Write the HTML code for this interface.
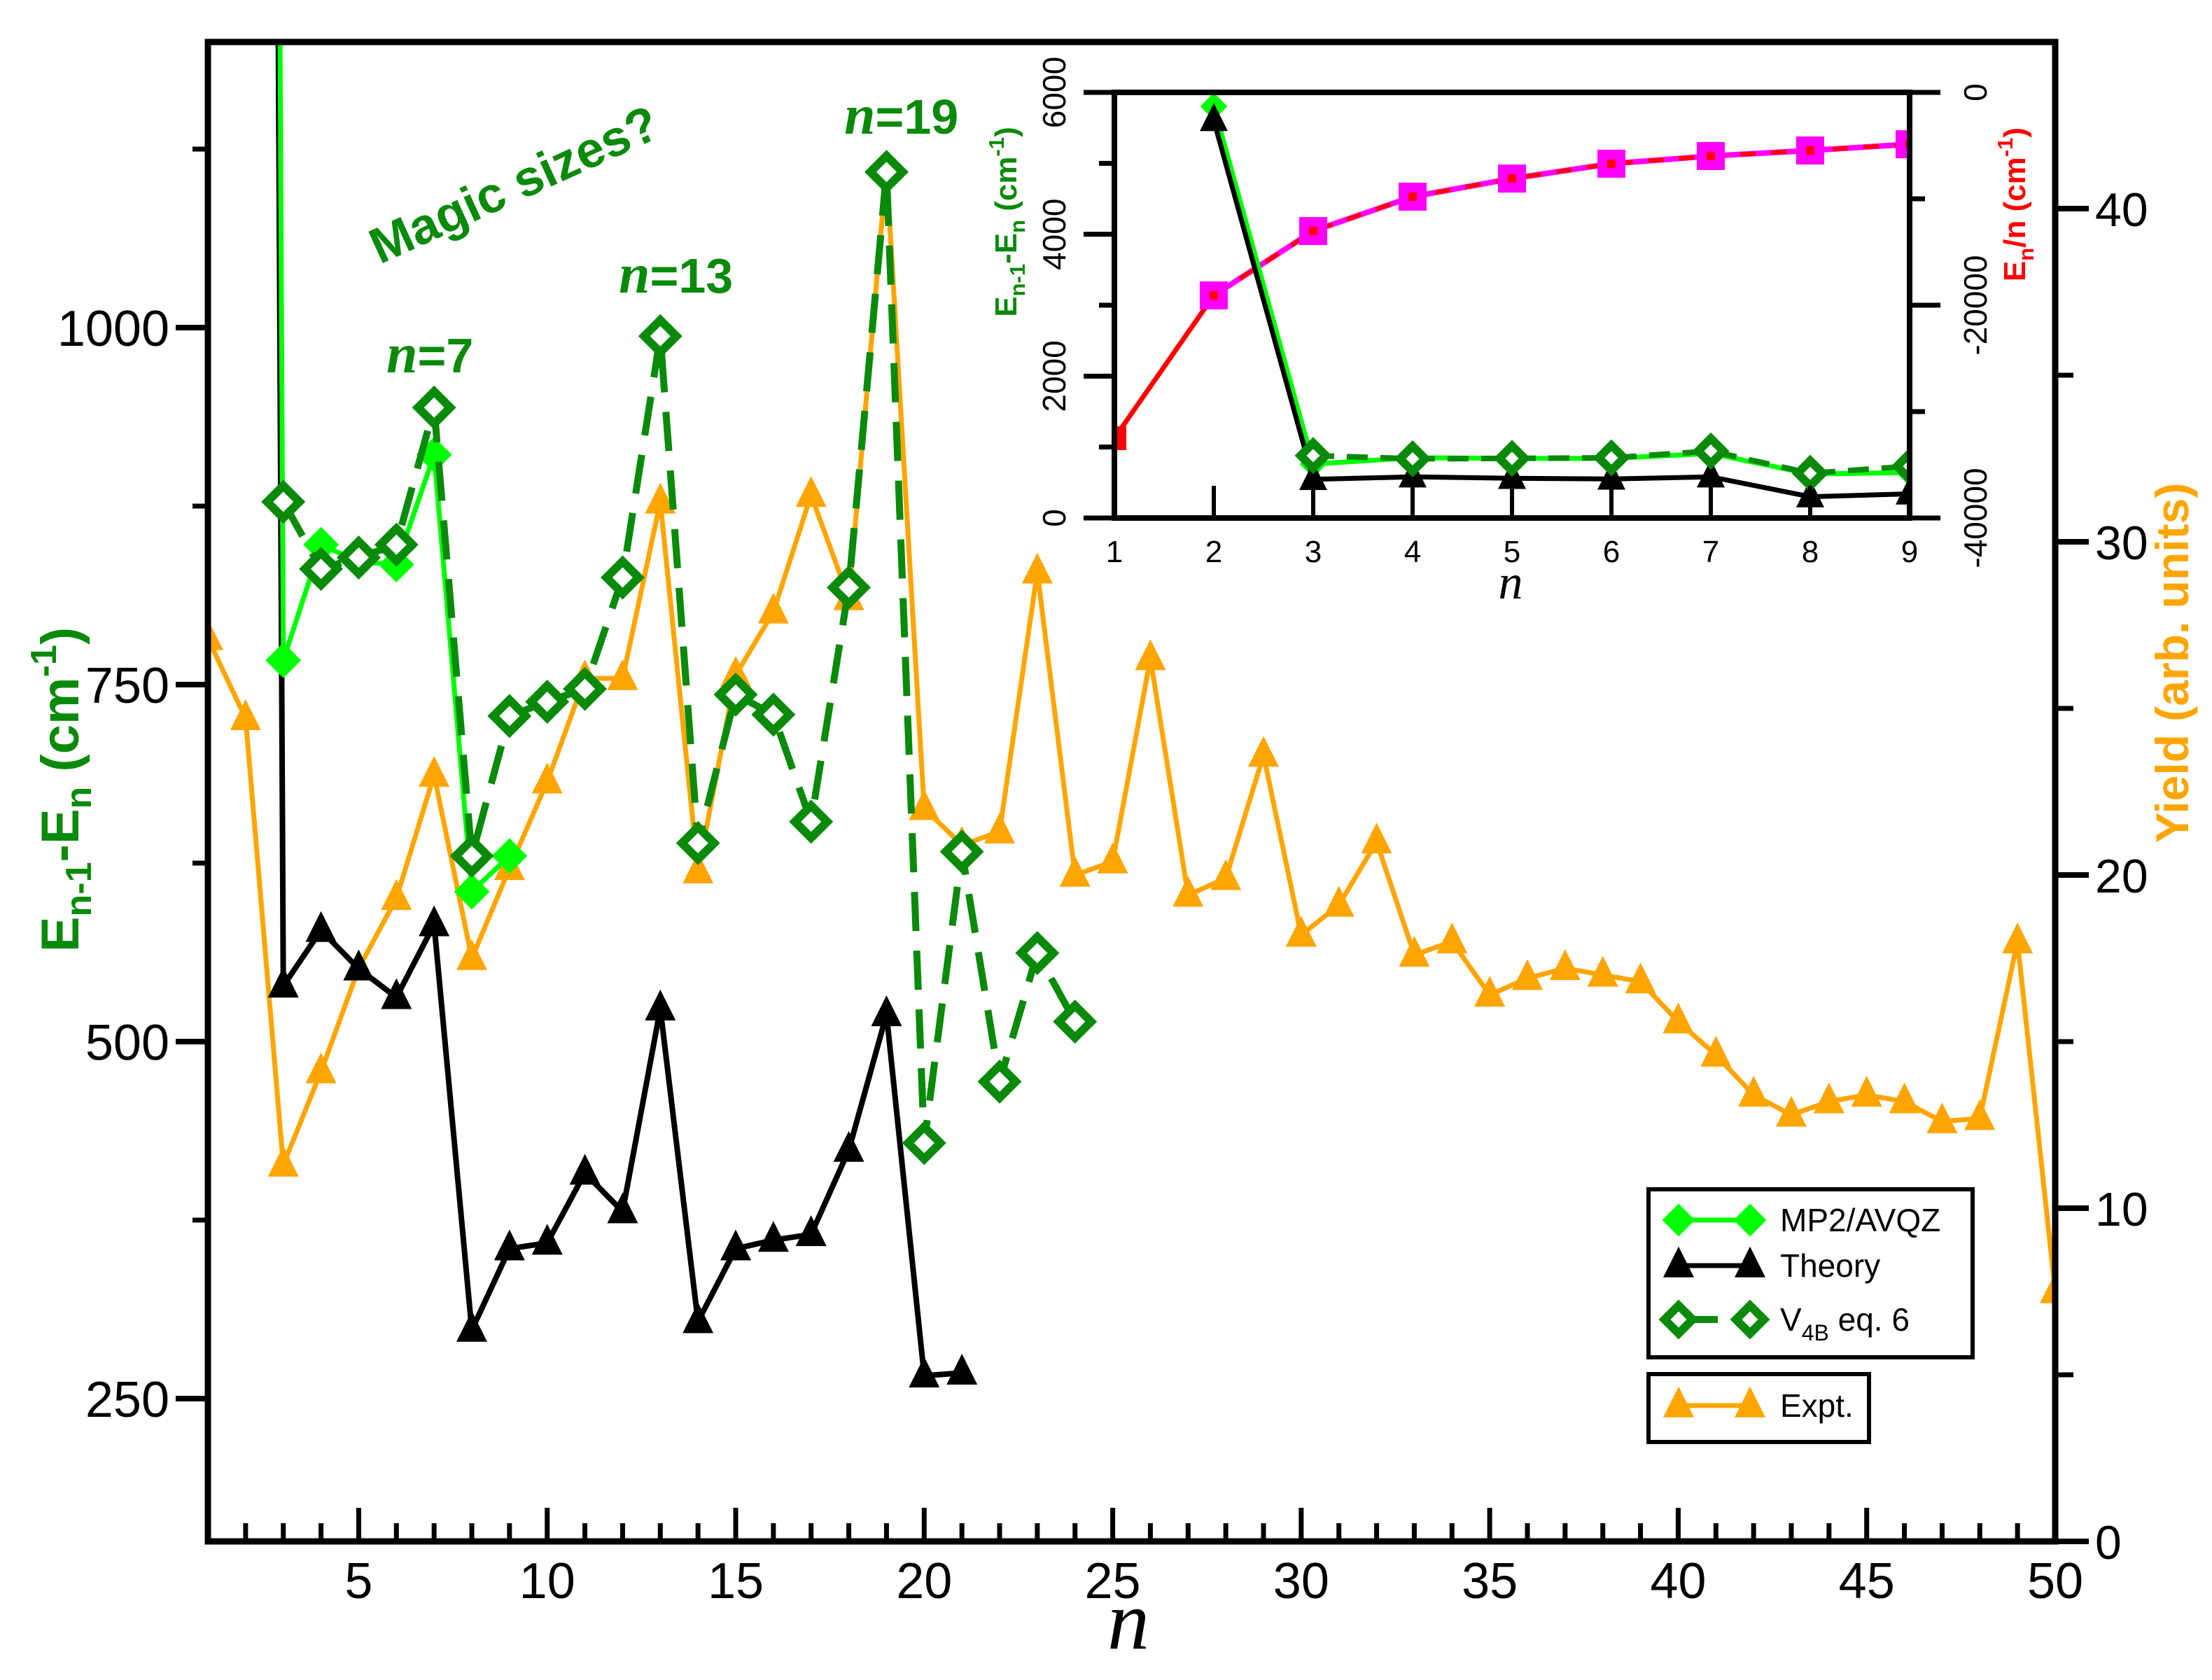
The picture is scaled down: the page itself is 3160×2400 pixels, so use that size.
<!DOCTYPE html>
<html><head><meta charset="utf-8"><title>Magic sizes chart</title>
<style>
html,body{margin:0;padding:0;background:#fff;}
svg{display:block;font-family:"Liberation Sans",sans-serif;}
</style></head>
<body>
<svg id="chart" xmlns="http://www.w3.org/2000/svg" width="3160" height="2400" viewBox="0 0 3160 2400">
<defs>
<clipPath id="mainClip"><rect x="297" y="60" width="2639" height="2142"/></clipPath>
<clipPath id="insetClip"><rect x="1592" y="132" width="1136" height="608"/></clipPath>
</defs>
<rect x="0" y="0" width="3160" height="2400" fill="#fff"/>
<g id="mainSeries" clip-path="url(#mainClip)"></g>
<g id="mainAxes"></g>
<rect x="297" y="60" width="2639" height="2142" fill="none" stroke="#000" stroke-width="9"/>

<text x="735" y="288" font-size="72" font-weight="bold" fill="#0a8a0a" text-anchor="middle" transform="rotate(-24.5 735 265)">Magic sizes?</text>
<text x="552" y="532" font-size="70" font-weight="bold" fill="#0a8a0a"><tspan font-family="Liberation Serif,serif" font-style="italic" font-size="80">n</tspan>=7</text>
<text x="884" y="418" font-size="70" font-weight="bold" fill="#0a8a0a"><tspan font-family="Liberation Serif,serif" font-style="italic" font-size="80">n</tspan>=13</text>
<text x="1206" y="191" font-size="70" font-weight="bold" fill="#0a8a0a"><tspan font-family="Liberation Serif,serif" font-style="italic" font-size="80">n</tspan>=19</text>

<text x="112" y="1128" font-size="76" font-weight="bold" fill="#0a8a0a" text-anchor="middle" transform="rotate(-90 112 1128)">E<tspan font-size="52" dy="18">n-1</tspan><tspan dy="-18">-E</tspan><tspan font-size="52" dy="18">n</tspan><tspan dy="-18"> (cm</tspan><tspan font-size="52" dy="-32">-1</tspan><tspan dy="32">)</tspan></text>
<text x="3126" y="947" font-size="66" font-weight="bold" fill="#ffa500" text-anchor="middle" transform="rotate(-90 3126 947)">Yield (arb. units)</text>
<text x="1612" y="2355" font-size="120" font-family="Liberation Serif,serif" font-style="italic" text-anchor="middle">n</text>

<g id="legend">
<rect x="2355" y="1699" width="463" height="240" fill="#fff" stroke="#000" stroke-width="6"/>
<rect x="2355" y="1963" width="315" height="97" fill="#fff" stroke="#000" stroke-width="6"/>
</g>

<g id="inset">
<rect x="1592" y="132" width="1136" height="608" fill="#fff"/>
<g id="insetSeries" clip-path="url(#insetClip)"></g>
<g id="insetAxes"></g>
<rect x="1592" y="132" width="1136" height="608" fill="none" stroke="#000" stroke-width="8"/>
<text x="1452" y="317" font-size="44" font-weight="bold" fill="#0a8a0a" text-anchor="middle" transform="rotate(-90 1452 317)">E<tspan font-size="31" dy="12">n-1</tspan><tspan dy="-12">-E</tspan><tspan font-size="31" dy="12">n</tspan><tspan dy="-12"> (cm</tspan><tspan font-size="31" dy="-18">-1</tspan><tspan dy="18">)</tspan></text>
<text x="2893" y="292" font-size="44" font-weight="bold" fill="#ff0000" text-anchor="middle" transform="rotate(-90 2893 292)">E<tspan font-size="31" dy="12">n</tspan><tspan dy="-12">/n (cm</tspan><tspan font-size="31" dy="-18">-1</tspan><tspan dy="18">)</tspan></text>
<text x="2158" y="855" font-size="70" font-family="Liberation Serif,serif" font-style="italic" text-anchor="middle">n</text>
</g>
</svg>
<script>
// ---- main chart data ----
const theoryN = [2,3,4,5,6,7,8,9,10,11,12,13,14,15,16,17,18,19,20,21];
const theoryVals = [5600,539,578,551,531,582,298,355,359,408,381,523,304,355,361,365,424,519,266,268];
const mp2N = [2,3,4,5,6,7,8,9];
const mp2Vals = [5800,767,848,836,834,911,605,630];
const v4bN = [3,4,5,6,7,8,9,10,11,12,13,14,15,16,17,18,19,20,21,22,23,24];
const v4bVals = [878,831,839,848,944,630,728,738,747,825,994,639,743,729,654,818,1109,429,633,472,562,514];
const exptN = [1,2,3,4,5,6,7,8,9,10,11,12,13,14,15,16,17,18,19,20,21,22,23,24,25,26,27,28,29,30,31,32,33,34,35,36,37,38,39,40,41,42,43,44,45,46,47,48,49,50];
const exptVals = [27.1,24.7,11.3,14.1,17.2,19.3,23.0,17.5,20.2,22.8,25.9,25.9,31.2,20.1,26.0,27.9,31.4,28.3,41.2,22.0,20.9,21.3,29.1,20.0,20.4,26.5,19.4,19.9,23.6,18.2,19.1,21.0,17.6,18.0,16.4,16.9,17.2,17.0,16.8,15.6,14.6,13.4,12.8,13.2,13.4,13.2,12.6,12.7,18.0,7.5];
const xTicks = [5,10,15,20,25,30,35,40,45,50];
const leftTicks = [250,500,750,1000];
const leftMinor = [375,625,875,1125];
const rightTicks = [0,10,20,30,40];
const rightMinor = [5,15,25,35];
// ---- inset data ----
const inTheoryN = [2,3,4,5,6,7,8,9];
const inTheoryVals = [5605,545,580,560,550,580,300,340];
const inMp2N = [2,3,4,5,6,7,8,9];
const inMp2Vals = [5803,760,850,840,840,910,620,640];
const inV4bN = [3,4,5,6,7,8,9];
const inV4bVals = [880,835,840,848,944,630,730];
const inEnN = [1,2,3,4,5,6,7,8,9];
const inEnVals = [-32500,-19080,-13030,-9800,-8100,-6700,-5980,-5460,-4870];
const inMagN = [2,3,4,5,6,7,8,9];
const inMagVals = [-19080,-13030,-9800,-8100,-6700,-5980,-5460,-4870];
const inXTicks = [1,2,3,4,5,6,7,8,9];
const inLeftTicks = [0,2000,4000,6000];
const inRightTicks = [0,-20000,-40000];

const NS = "http://www.w3.org/2000/svg";
function mk(tag, attrs, parent){ const e=document.createElementNS(NS,tag); for(const k in attrs) e.setAttribute(k,attrs[k]); parent.appendChild(e); return e; }

const xs = n => 297 + (n-1)*(2936-297)/49;
const yL = v => 2202 - (v-150)*(2202-60)/1050;
const yR = v => 2202 - v*(2142/45);
const ixs = n => 1592 + (n-1)*(1136/8);
const iyL = v => 740 - v*(608/6000);
const iyR = v => 132 - v*(608/40000);

function tri(g,cx,cy,s,color,name){
  const p = mk('polygon',{points:`${cx},${cy-s*0.62} ${cx-s/2},${cy+s*0.38} ${cx+s/2},${cy+s*0.38}`,fill:color},g);
  
  
}
function diamond(g,cx,cy,s,color,open,name){
  const p = mk('polygon',{points:`${cx},${cy-s/2} ${cx+s/2},${cy} ${cx},${cy+s/2} ${cx-s/2},${cy}`,fill:open?'#fff':color,stroke:color,'stroke-width':open?12:2},g);
  
  
}
function square(g,cx,cy,s,color,name){
  const p = mk('rect',{x:cx-s/2,y:cy-s/2,width:s,height:s,fill:color},g);
  
  
}
function line(g,ns,vs,fx,fy,color,w,dash,name){
  const pts = ns.map((n,i)=>fx(n)+','+fy(vs[i])).join(' ');
  const a = {points:pts,fill:'none',stroke:color,'stroke-width':w,'stroke-linejoin':'miter'};
  if(dash) a['stroke-dasharray']=dash;
  const p = mk('polyline',a,g);
  
  
}

const ms = document.getElementById('mainSeries');
line(ms,exptN,exptVals,xs,yR,'#ffa500',7,null,'expt-line');
exptN.forEach((n,i)=>tri(ms,xs(n),yR(exptVals[i]),44,'#ffa500','expt-point'));
line(ms,theoryN,theoryVals,xs,yL,'#000',8,null,'theory-line');
theoryN.forEach((n,i)=>tri(ms,xs(n),yL(theoryVals[i]),44,'#000','theory-point'));
line(ms,mp2N,mp2Vals,xs,yL,'#00ff00',7,null,'mp2-line');
mp2N.forEach((n,i)=>diamond(ms,xs(n),yL(mp2Vals[i]),48,'#00ff00',false,'mp2-point'));
line(ms,v4bN,v4bVals,xs,yL,'#0a8a0a',10,'56 28','v4b-line');
v4bN.forEach((n,i)=>diamond(ms,xs(n),yL(v4bVals[i]),46,'#0a8a0a',true,'v4b-point'));

const ma = document.getElementById('mainAxes');
for(let n=2;n<=49;n++){
  const major = xTicks.includes(n);
  const t = mk('line',{x1:xs(n),x2:xs(n),y1:2202,y2:2202-(major?48:26),stroke:'#000','stroke-width':7},ma);
  
  
}
xTicks.forEach(n=>{
  const t = mk('text',{x:xs(n),y:2283,'font-size':72,'text-anchor':'middle'},ma);
  t.textContent = n;
  
  
});
leftTicks.forEach(v=>{
  const t = mk('line',{x1:251,x2:297,y1:yL(v),y2:yL(v),stroke:'#000','stroke-width':8},ma);
  
  
  const l = mk('text',{x:242,y:yL(v)+26,'font-size':72,'text-anchor':'end'},ma);
  l.textContent = v;
  
  
});
leftMinor.forEach(v=>{
  const t = mk('line',{x1:275,x2:297,y1:yL(v),y2:yL(v),stroke:'#000','stroke-width':7},ma);
  
  
});
rightTicks.forEach(v=>{
  const t = mk('line',{x1:2936,x2:2984,y1:yR(v),y2:yR(v),stroke:'#000','stroke-width':8},ma);
  
  
  const l = mk('text',{x:2993,y:yR(v)+25,'font-size':68},ma);
  l.textContent = v;
  
  
});
rightMinor.forEach(v=>{
  const t = mk('line',{x1:2936,x2:2962,y1:yR(v),y2:yR(v),stroke:'#000','stroke-width':7},ma);
  
  
});

const lg = document.getElementById('legend');
const rows = [
  {y:1743,label:'MP2/AVQZ',kind:'mp2'},
  {y:1808,label:'Theory',kind:'theory'},
  {y:1885,label:'V4B',kind:'v4b'},
  {y:2008,label:'Expt.',kind:'expt'}
];
rows.forEach(r=>{
  const col = r.kind==='mp2'?'#00ff00':r.kind==='theory'?'#000':r.kind==='v4b'?'#0a8a0a':'#ffa500';
  const ln = mk('line',{x1:2398,x2:2500,y1:r.y,y2:r.y,stroke:col,'stroke-width':r.kind==='v4b'?10:7,'stroke-dasharray':r.kind==='v4b'?'56 28':'none'},lg);
  
  
  [2398,2500].forEach(x=>{
    if(r.kind==='mp2') diamond(lg,x,r.y,44,col,false,'legend-marker-mp2');
    else if(r.kind==='v4b') diamond(lg,x,r.y,40,col,true,'legend-marker-v4b');
    else tri(lg,x,r.y,44,col,'legend-marker-'+r.kind);
  });
  const t = mk('text',{x:2543,y:r.y+16,'font-size':46},lg);
  if(r.kind==='v4b'){
    t.innerHTML = 'V<tspan font-size="32" dy="14">4B</tspan><tspan dy="-14"> eq. 6</tspan>';
  } else t.textContent = r.label;
  
  
});

const is = document.getElementById('insetSeries');
line(is,inEnN,inEnVals,ixs,iyR,'#ff0000',7,null,'inset-en-line');
line(is,inMagN,inMagVals,ixs,iyR,'#ff00ff',8,null,'inset-mp2-en-line');
line(is,inMagN,inMagVals,ixs,iyR,'#ff0000',6,'22 22','inset-en-dashed-line');
inMagN.forEach((n,i)=>square(is,ixs(n),iyR(inMagVals[i]),40,'#ff00ff','inset-mp2-en-point'));
inEnN.forEach((n,i)=>square(is,ixs(n),iyR(inEnVals[i]),n===1?34:12,'#ff0000','inset-en-point'));
line(is,inMp2N,inMp2Vals,ixs,iyL,'#00ff00',7,null,'inset-mp2-line');
inMp2N.forEach((n,i)=>diamond(is,ixs(n),iyL(inMp2Vals[i]),36,'#00ff00',false,'inset-mp2-point'));
line(is,inTheoryN,inTheoryVals,ixs,iyL,'#000',7,null,'inset-theory-line');
inTheoryN.forEach((n,i)=>tri(is,ixs(n),iyL(inTheoryVals[i]),40,'#000','inset-theory-point'));
line(is,inV4bN,inV4bVals,ixs,iyL,'#0a8a0a',8,'30 18','inset-v4b-line');
inV4bN.forEach((n,i)=>diamond(is,ixs(n),iyL(inV4bVals[i]),36,'#0a8a0a',true,'inset-v4b-point'));

const ia = document.getElementById('insetAxes');
inXTicks.forEach(n=>{
  const t = mk('line',{x1:ixs(n),x2:ixs(n),y1:740,y2:694,stroke:'#000','stroke-width':6},ia);
  
  
  const l = mk('text',{x:ixs(n),y:803,'font-size':44,'text-anchor':'middle'},ia);
  l.textContent = n;
  
  
});
for(let v=0; v<=6000; v+=1000){
  const major = inLeftTicks.includes(v);
  const t = mk('line',{x1:major?1548:1570,x2:1592,y1:iyL(v),y2:iyL(v),stroke:'#000','stroke-width':7},ia);
  
  
}
inLeftTicks.forEach(v=>{
  const l = mk('text',{x:1522,y:iyL(v),'font-size':46,'text-anchor':'middle',transform:`rotate(-90 1522 ${iyL(v)})`},ia);
  l.textContent = v;
  
  
});
for(let v=0; v>=-40000; v-=10000){
  const major = inRightTicks.includes(v);
  const t = mk('line',{x1:2728,x2:major?2772:2750,y1:iyR(v),y2:iyR(v),stroke:'#000','stroke-width':7},ia);
  
  
}
inRightTicks.forEach(v=>{
  const l = mk('text',{x:2838,y:iyR(v),'font-size':46,'text-anchor':'middle',transform:`rotate(-90 2838 ${iyR(v)})`},ia);
  l.textContent = v;
  
  
});
</script>
</body></html>
